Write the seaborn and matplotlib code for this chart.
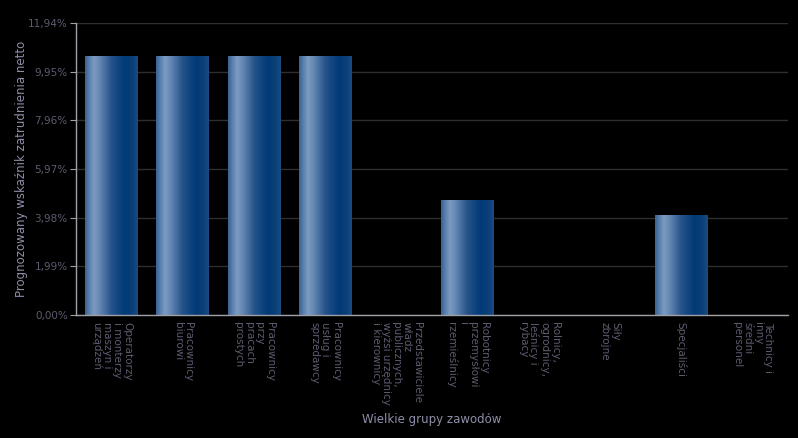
"""
Prognozowany wskaznik zatrudnienia netto wg wielkich grup zawodow.
Dark theme bar chart with horizontal gradient fill on the bars.
"""
import numpy as np
import pandas as pd
import matplotlib
matplotlib.use("Agg")
import matplotlib.pyplot as plt
from matplotlib.colors import LinearSegmentedColormap
import seaborn as sns

CATEGORIES = [
    "Operatorzy\ni monterzy\nmaszyn i\nurządzeń",
    "Pracownicy\nbiurowi",
    "Pracownicy\nprzy\npracach\nprostych",
    "Pracownicy\nusług i\nsprzedawcy",
    "Przedstawiciele\nwładz\npublicznych,\nwyżsi urzędnicy\ni kierownicy",
    "Robotnicy\nprzemysłowi\ni\nrzemieślnicy",
    "Rolnicy,\nogrodnicy,\nleśnicy i\nrybacy",
    "Siły\nzbrojne",
    "Specjaliści",
    "Technicy i\ninny\nśredni\npersonel",
]
VALUES = [10.58, 10.58, 10.58, 10.58, 0.0, 4.72, 0.0, 0.0, 4.10, 0.0]
Y_TICKS = [0.0, 1.99, 3.98, 5.97, 7.96, 9.95, 11.94]
Y_TICK_LABELS = ["0,00%", "1,99%", "3,98%", "5,97%", "7,96%", "9,95%", "11,94%"]

BG = "#000000"
TICK_COLOR = "#5c5c70"
LABEL_COLOR = "#8e8ea8"
GRID_COLOR = "#2e2e2e"
SPINE_COLOR = "#a0a0a8"

sns.set_theme(style="dark", rc={"figure.facecolor": BG, "axes.facecolor": BG,
                                "savefig.facecolor": BG})
plt.rcParams["font.family"] = ["DejaVu Sans"]

bar_cmap = LinearSegmentedColormap.from_list("bar", [
    (0.00, "#3a6192"),
    (0.08, "#5a80ad"),
    (0.17, "#7b9bc2"),
    (0.28, "#6486b2"),
    (0.50, "#24538a"),
    (0.75, "#013a76"),
    (0.90, "#0a3f79"),
    (1.00, "#1d4b82"),
])

df = pd.DataFrame({"grupa": CATEGORIES, "wartosc": VALUES})

fig = plt.figure(figsize=(7.98, 4.38), dpi=100, facecolor=BG)
ax = fig.add_axes([0.0952, 0.2808, 0.8923, 0.6667])
ax.set_facecolor(BG)

sns.barplot(data=df, x="grupa", y="wartosc", ax=ax, width=0.74,
            color="#1f4e84", saturation=1)

# gradient fill, clipped to each bar
grad = np.linspace(0, 1, 256).reshape(1, -1)
for patch in ax.patches:
    h = patch.get_height()
    patch.set_facecolor("none")
    patch.set_edgecolor("none")
    if h <= 0:
        patch.set_visible(False)
        continue
    x0 = patch.get_x()
    w = patch.get_width()
    img = ax.imshow(grad, cmap=bar_cmap, aspect="auto",
                    extent=(x0, x0 + w, 0, h), zorder=patch.get_zorder())
    img.set_clip_path(patch)
ax.set_xlim(-0.5, len(CATEGORIES) - 0.5)
ax.set_ylim(0, 11.94)

ax.set_yticks(Y_TICKS)
ax.set_yticklabels(Y_TICK_LABELS)
ax.yaxis.grid(True, color=GRID_COLOR, linewidth=1)
ax.xaxis.grid(False)
ax.set_axisbelow(True)

ax.tick_params(axis="y", colors=SPINE_COLOR, labelcolor=TICK_COLOR,
               labelsize=7.5, length=4, width=0.8, left=True, pad=2)
ax.tick_params(axis="x", labelcolor=TICK_COLOR, labelsize=7.5,
               length=0, pad=5)
for lbl in ax.get_xticklabels():
    lbl.set_rotation(270)
    lbl.set_ha("center")
    lbl.set_va("top")
    lbl.set_multialignment("left")
    lbl.set_linespacing(1.05)

for side in ["top", "right"]:
    ax.spines[side].set_visible(False)
for side in ["left", "bottom"]:
    ax.spines[side].set_visible(True)
    ax.spines[side].set_color(SPINE_COLOR)
    ax.spines[side].set_linewidth(1)

ax.set_xlabel("Wielkie grupy zawodów", color=LABEL_COLOR, fontsize=8.5)
ax.set_ylabel("Prognozowany wskaźnik zatrudnienia netto", color=LABEL_COLOR,
              fontsize=8.5)
ax.xaxis.set_label_coords(0.5, -0.335)
ax.yaxis.set_label_coords(-0.068, 0.5)

fig.savefig("out.png", dpi=100, facecolor=BG)
plt.close(fig)
